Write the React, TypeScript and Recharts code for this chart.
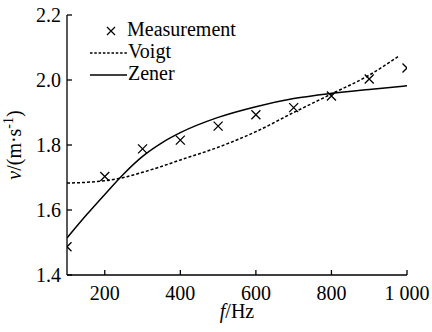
import React from 'react';
import { ComposedChart, Line, Scatter, XAxis, YAxis, Label } from 'recharts';

// measured phase velocity
const FREQ_MEAS = [100, 200, 300, 400, 500, 600, 700, 800, 900, 1000];
const V_MEAS = [1.487, 1.703, 1.788, 1.815, 1.858, 1.893, 1.915, 1.951, 2.003, 2.037];

// Voigt model fit
const FREQ_VOIGT = [100, 150, 200, 250, 300, 350, 400, 500, 600, 700, 800, 900, 980];
const V_VOIGT = [1.683, 1.685, 1.69, 1.7, 1.716, 1.734, 1.754, 1.793, 1.841, 1.9, 1.957, 2.015, 2.075];

// Zener model fit
const FREQ_ZENER = [100, 150, 200, 250, 300, 350, 400, 500, 600, 700, 800, 900, 1000];
const V_ZENER = [1.514, 1.583, 1.648, 1.711, 1.765, 1.806, 1.838, 1.885, 1.918, 1.943, 1.959, 1.971, 1.982];

const X_TICKS = [200, 400, 600, 800, 1000];
const Y_TICKS = [1.4, 1.6, 1.8, 2.0, 2.2];

const LEGEND_LABELS = ['Measurement', 'Voigt', 'Zener'];

const FONT = '"Liberation Serif"';

const measData = FREQ_MEAS.map((f, i) => ({ f, v: V_MEAS[i] }));
const voigtData = FREQ_VOIGT.map((f, i) => ({ f, v: V_VOIGT[i] }));
const zenerData = FREQ_ZENER.map((f, i) => ({ f, v: V_ZENER[i] }));

const Cross = (props: any) => {
  const { cx, cy } = props;
  if (cx == null || cy == null) return null;
  const r = 4.5;
  return (
    <path
      d={`M${cx - r},${cy - r}L${cx + r},${cy + r}M${cx + r},${cy - r}L${cx - r},${cy + r}`}
      stroke="#000"
      strokeWidth={1.3}
      fill="none"
    />
  );
};

// legend as an svg overlay, so it doesn't take plot space
const LegendOverlay = () => (
  <svg
    width={432}
    height={332}
    style={{ position: 'absolute', left: 0, top: 0, pointerEvents: 'none' }}
  >
    <g style={{ fontFamily: FONT }} fontSize={20} fill="#000">
      <path d="M107,27L115,35M115,27L107,35" stroke="#000" strokeWidth={1.2} />
      <text x={127} y={36}>{LEGEND_LABELS[0]}</text>
      <line x1={90} y1={53} x2={127} y2={53} stroke="#000" strokeWidth={1.4} strokeDasharray="2.5 1.8" />
      <text x={128} y={58}>{LEGEND_LABELS[1]}</text>
      <line x1={90} y1={75} x2={127} y2={75} stroke="#000" strokeWidth={1.4} />
      <text x={128} y={80}>{LEGEND_LABELS[2]}</text>
    </g>
  </svg>
);

const YTitle = (props: any) => {
  const vb = props.viewBox || {};
  const cy = vb.y + vb.height / 2;
  const cx = 21;
  return (
    <text
      transform={`rotate(-90, ${cx}, ${cy})`}
      x={cx}
      y={cy}
      textAnchor="middle"
      style={{ fontFamily: FONT }}
      fontSize={20}
      fill="#000"
    >
      <tspan fontStyle="italic">v</tspan>
      <tspan>/(m·s</tspan>
      <tspan fontSize={14} dy={-8}>-1</tspan>
      <tspan dy={8}>)</tspan>
    </text>
  );
};

const XTitle = (props: any) => {
  const vb = props.viewBox || {};
  const cx = vb.x + vb.width / 2;
  return (
    <text x={cx} y={318} textAnchor="middle" style={{ fontFamily: FONT }} fontSize={20} fill="#000">
      <tspan fontStyle="italic">f</tspan>
      <tspan>/Hz</tspan>
    </text>
  );
};

const fmtX = (v: number) => (v === 1000 ? '1 000' : String(v));

export default function App() {
  return (
    <div style={{ position: 'absolute', left: 0, top: 0, width: 432, height: 332, background: '#fff' }}>
      <ComposedChart width={432} height={332} margin={{ top: 15, right: 25, bottom: 0, left: 0 }}>
        <XAxis
          type="number"
          dataKey="f"
          domain={[100, 1000]}
          ticks={X_TICKS}
          tickFormatter={fmtX}
          allowDataOverflow
          height={57}
          stroke="#000"
          strokeWidth={1.3}
          tickSize={-5}
          tickMargin={16}
          tick={{ fill: '#000', fontFamily: FONT, fontSize: 20 }}
        >
          <Label content={<XTitle />} />
        </XAxis>
        <YAxis
          type="number"
          dataKey="v"
          domain={[1.4, 2.2]}
          ticks={Y_TICKS}
          tickFormatter={(v: number) => v.toFixed(1)}
          width={67}
          stroke="#000"
          strokeWidth={1.3}
          tickSize={-5}
          tickMargin={11}
          tick={{ fill: '#000', fontFamily: FONT, fontSize: 20 }}
        >
          <Label content={<YTitle />} />
        </YAxis>
        <Line
          data={voigtData}
          dataKey="v"
          type="monotone"
          stroke="#000"
          strokeWidth={1.5}
          strokeDasharray="3 2"
          dot={false}
          isAnimationActive={false}
        />
        <Line
          data={zenerData}
          dataKey="v"
          type="monotone"
          stroke="#000"
          strokeWidth={1.5}
          dot={false}
          isAnimationActive={false}
        />
        <Scatter data={measData} dataKey="v" shape={<Cross />} isAnimationActive={false} />
      </ComposedChart>
      <LegendOverlay />
    </div>
  );
}
